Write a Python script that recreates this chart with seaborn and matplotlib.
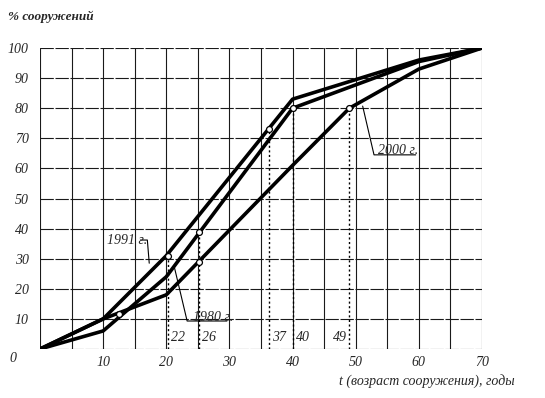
import numpy as np
import pandas as pd
import matplotlib
matplotlib.use("Agg")
import matplotlib.pyplot as plt
import seaborn as sns

# ---- data ----
x_1991 = [0, 10, 20, 40, 60, 70]
y_1991 = [0, 10, 31, 83, 96, 100]
x_1980 = [0, 10, 20, 40, 60, 70]
y_1980 = [0, 6, 24, 80, 95.5, 100]
x_2000 = [0, 10, 20, 40, 49, 60, 70]
y_2000 = [0, 10, 18, 61, 80, 93, 100]

marker_x = [12.5, 20.3, 25.2, 25.2, 36.2, 40, 49]
marker_y = [11.6, 31, 39, 29, 73, 80, 80]

dash_x = [20.3, 25.2, 36.2, 40, 49]
dash_top = [31, 39, 73, 80, 80]
dash_labels = ["22", "26", "37", "40", "49"]

x_ticks = [10, 20, 30, 40, 50, 60, 70]
y_ticks = [10, 20, 30, 40, 50, 60, 70, 80, 90, 100]

df = pd.concat([
    pd.DataFrame({"t": x_1991, "p": y_1991, "s": "1991"}),
    pd.DataFrame({"t": x_1980, "p": y_1980, "s": "1980"}),
    pd.DataFrame({"t": x_2000, "p": y_2000, "s": "2000"}),
], ignore_index=True)

sns.set_style("white")
plt.rcParams["font.family"] = ["Liberation Serif", "DejaVu Serif"]
plt.rcParams["font.style"] = "italic"

W, H = 545, 398
fig = plt.figure(figsize=(W / 100, H / 100), dpi=100)
ax = fig.add_axes([40 / W, 1 - 349 / H, 442 / W, 301 / H])

# grid
for gx in range(0, 71, 5):
    ax.axvline(gx, color="#1a1a1a", lw=0.8, zorder=1)
for gy in range(0, 101, 10):
    ax.axhline(gy, color="#1a1a1a", lw=0.8, ls=(0, (12, 1.5)), zorder=1)

sns.lineplot(data=df, x="t", y="p", hue="s", palette=["black"] * 3,
             linewidth=2.6, legend=False, ax=ax, sort=False, zorder=3)

# dashed verticals
for dx, dt in zip(dash_x, dash_top):
    ax.plot([dx, dx], [0, dt], color="black", lw=1.0, ls=(0, (1.5, 1.8)), zorder=2)

# labels at the dashed lines
for dx, lab in zip(dash_x, dash_labels):
    if lab == "49":
        ax.text(dx - 0.4, 1.5, lab, ha="right", va="bottom", fontsize=10)
    else:
        ax.text(dx + 0.5, 1.5, lab, ha="left", va="bottom", fontsize=10)

ax.scatter(marker_x, marker_y, s=18, facecolor="white", edgecolor="black",
           linewidth=0.9, zorder=4)

# curve annotations with leader lines
ax.text(10.6, 36.2, "1991 г.", fontsize=10, ha="left", va="center")
ax.plot([15.9, 17.0, 17.3], [36.2, 36.2, 28.5], color="black", lw=0.8, zorder=2)
ax.text(24.3, 10.6, "1980 г.", fontsize=10, ha="left", va="center")
ax.plot([29.6, 23.3, 21.3], [9.3, 9.3, 27], color="black", lw=0.8, zorder=2)
ax.text(53.5, 65.9, "2000 г.", fontsize=10, ha="left", va="center")
ax.plot([59.5, 52.9, 51.1], [64.5, 64.5, 80.7], color="black", lw=0.8, zorder=2)

ax.set_xlim(0, 70)
ax.set_ylim(0, 100)
ax.set_xticks(x_ticks)
ax.set_yticks(y_ticks)
ax.set_xticklabels([str(v) for v in x_ticks], fontsize=10)
ax.set_yticklabels([str(v) for v in y_ticks], fontsize=10)
ax.tick_params(axis="both", length=0)
ax.tick_params(axis="x", pad=5)
ax.tick_params(axis="y", pad=8)
for sp in ax.spines.values():
    sp.set_visible(False)
ax.set_xlabel("")
ax.set_ylabel("")

fig.text(13 / W, 1 - 358 / H, "0", fontsize=10, ha="center", va="center")
fig.text(8 / W, 1 - 17 / H, "% сооружений", fontsize=9.5, ha="left",
         va="center", fontweight="bold")
fig.text(515 / W, 1 - 381 / H, "t (возраст сооружения), годы", fontsize=10,
         ha="right", va="center")

fig.savefig("out.png", dpi=100)
